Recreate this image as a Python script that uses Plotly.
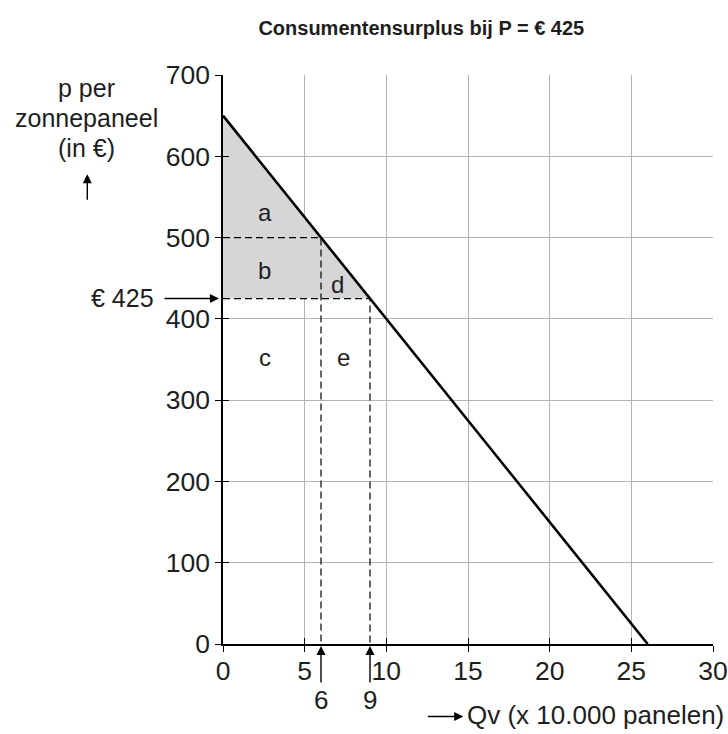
import plotly.graph_objects as go

# data
demand_q = [0, 26]
demand_p = [650, 0]
price = 425
q_levels = [6, 9]
p_levels = [500, 425]
area_labels = ["a", "b", "c", "d", "e"]
area_x = [2.55, 2.55, 2.55, 7.0, 7.4]
area_y = [531, 459, 353, 442, 353]
x_ticks = [0, 5, 10, 15, 20, 25, 30]
y_ticks = [0, 100, 200, 300, 400, 500, 600, 700]
y_label_lines = ["p per", "zonnepaneel", "(in €)"]

FONT = "Liberation Sans, Arial, sans-serif"
TXT = "#1e1e1e"
W, H = 728, 734
L, R, T, B = 222.7, 15.3, 74.7, 90
PW = W - L - R
PH = H - T - B

def px(x):
    return (x - L) / PW

def py(y):
    return (H - B - y) / PH

fig = go.Figure()

# shaded consumer surplus triangle
p0 = demand_p[0]
slope = (demand_p[1] - demand_p[0]) / (demand_q[1] - demand_q[0])
q_at_price = (price - p0) / slope
fig.add_trace(go.Scatter(
    x=[0, q_at_price, 0, 0], y=[p0, price, price, p0],
    fill="toself", fillcolor="#d6d6d9", line=dict(width=0),
    mode="lines", hoverinfo="skip", showlegend=False))

# dashed helper lines
for q, p in zip(q_levels, p_levels):
    fig.add_trace(go.Scatter(x=[0, q, q], y=[p, p, 0], mode="lines",
                             line=dict(color="black", width=1.2, dash="7px,4px"),
                             showlegend=False, hoverinfo="skip"))

# demand line
fig.add_trace(go.Scatter(x=demand_q, y=demand_p, mode="lines",
                         line=dict(color="black", width=2.6),
                         showlegend=False))

# invisible trace for overlay axes (inner tick marks)
fig.add_trace(go.Scatter(x=[0], y=[0], xaxis="x2", yaxis="y2", mode="markers",
                         marker=dict(opacity=0), hoverinfo="skip",
                         showlegend=False))

ann = []
for t, x, y in zip(area_labels, area_x, area_y):
    ann.append(dict(x=x, y=y, xref="x", yref="y", text=t, showarrow=False,
                    xanchor="center", yanchor="middle",
                    font=dict(size=24, color=TXT)))

# arrows under axis for 6 and 9
for q in q_levels:
    ann.append(dict(x=q, y=0, xref="x", yref="y", text="", showarrow=True,
                    ax=0, ay=40, arrowhead=2, arrowsize=1.3, arrowwidth=1.4,
                    arrowcolor="black", standoff=2))
    ann.append(dict(x=q, y=0, xref="x", yref="y", text=str(q), showarrow=False,
                    xanchor="center", yanchor="middle",
                    yshift=-56, font=dict(size=26, color=TXT)))

# price arrow
ann.append(dict(x=0, y=price, xref="x", yref="y", text="", showarrow=True,
                ax=-60, ay=0, arrowhead=2, arrowsize=1.3, arrowwidth=1.4,
                arrowcolor="black", standoff=4))
ann.append(dict(x=px(156), y=py(298), xref="paper", yref="paper",
                text="€ " + str(price), showarrow=False, xanchor="right",
                yanchor="middle", font=dict(size=25, color=TXT)))

# y-axis label (three lines)
for i, line in enumerate(y_label_lines):
    ann.append(dict(x=px(86), y=py(88 + 30 * i), xref="paper", yref="paper",
                    text=line, showarrow=False,
                    xanchor="center", yanchor="middle",
                    font=dict(size=25, color=TXT)))
ann.append(dict(x=px(87), y=py(174), xref="paper", yref="paper", text="",
                showarrow=True, ax=0, ay=27, arrowhead=2, arrowsize=1.3,
                arrowwidth=1.4, arrowcolor="black"))

# x-axis label
ann.append(dict(x=px(726), y=py(715), xref="paper", yref="paper",
                text="Qv (x 10.000 panelen)", showarrow=False, xanchor="right",
                yanchor="middle", font=dict(size=26, color=TXT)))
ann.append(dict(x=px(463), y=py(716.5), xref="paper", yref="paper", text="",
                showarrow=True, ax=-37, ay=0, arrowhead=2, arrowsize=1.3,
                arrowwidth=1.4, arrowcolor="black"))

fig.update_layout(
    width=W, height=H,
    margin=dict(l=L, r=R, t=T, b=B, autoexpand=False),
    paper_bgcolor="white", plot_bgcolor="white",
    font=dict(family=FONT, size=25, color=TXT),
    title=dict(text="<b>Consumentensurplus bij P = € 425</b>",
               x=px(421), xref="paper", xanchor="center",
               y=1 - 28 / H, yanchor="middle",
               font=dict(size=20, color=TXT)),
    annotations=ann,
    showlegend=False,
)
axis_style = dict(showgrid=True, gridcolor="#b4b4b4", gridwidth=1,
                  showline=True, linecolor="black", linewidth=1.5,
                  ticks="outside", ticklen=6, tickcolor="black",
                  tickwidth=1.3, zeroline=False, tickfont=dict(size=26.5),
                  fixedrange=True, automargin=False)
fig.update_xaxes(range=[0, 30], tickvals=x_ticks, ticklabelstandoff=-4,
                 **axis_style)
fig.update_yaxes(range=[0, 700], tickvals=y_ticks, **axis_style)

inner = dict(showgrid=False, showline=False, zeroline=False, ticks="inside",
             ticklen=6, tickcolor="black", tickwidth=1.3,
             showticklabels=False, fixedrange=True, automargin=False)
fig.update_layout(
    xaxis2=dict(range=[0, 30], tickvals=x_ticks, overlaying="x",
                anchor="y", side="bottom", **inner),
    yaxis2=dict(range=[0, 700], tickvals=y_ticks, overlaying="y",
                anchor="x", side="left", **inner),
)

fig.write_html("out.html",
               config={"displayModeBar": False},
               post_script="document.body.style.margin='0px';"
                           "document.body.style.overflow='hidden';")
